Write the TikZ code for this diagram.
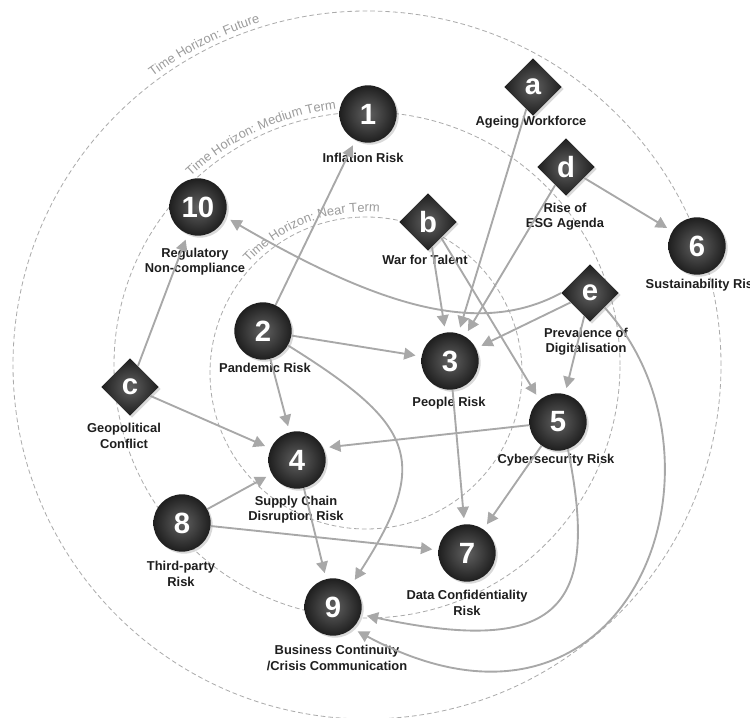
\documentclass[tikz,border=0pt]{standalone}
\usepackage{fontspec}
\setsansfont{Liberation Sans}
\usetikzlibrary{shapes.geometric,arrows.meta,shadows,decorations.text}
\definecolor{rkEdge}{HTML}{A8A8A8}
\definecolor{rkRing}{HTML}{ABABAB}
\definecolor{rkArcText}{HTML}{9C9C9C}
\definecolor{rkText}{HTML}{1E1E1E}
\newcommand{\rkArcFont}{\sffamily\fontsize{11}{13}\selectfont\color{rkArcText}}
\tikzset{
    rkNodeBase/.style={
        inner sep=0pt,
        shade,
        shading=radial,
        inner color=black!62,
        outer color=black!88,
        text=white,
        font=\sffamily\bfseries\fontsize{25}{28}\selectfont,
        drop shadow={opacity=0.3, shadow xshift=0.6mm, shadow yshift=-0.6mm}
    },
    % Risks and drivers
    risk/.style={rkNodeBase, circle, minimum size=17.2mm},
    driver/.style={rkNodeBase, diamond, aspect=1, minimum size=17.2mm},
    % Labels
    rkLabel/.style={
        font=\sffamily\bfseries\fontsize{11}{13}\selectfont,
        text=rkText,
        align=center,
        inner sep=1pt
    },
    % Rings
    rkRingBase/.style={draw=rkRing, line width=0.7pt, dash pattern=on 4pt off 2.5pt},
    rkArcLabel/.style={decorate, decoration={text along path, text align=center, text={|\rkArcFont|#1}}},
    % Arrows
    rkArrowBase/.style={-{Triangle[length=3.4mm, width=3.5mm]}, line width=1.6pt, draw=rkEdge, shorten >=1.8mm}
}

\begin{document}
\begin{tikzpicture}[
    x=0.3mm, y=0.3mm,
    ring/.style={rkRingBase},
    lbl/.style={rkLabel},
    arr/.style={rkArrowBase}
]
\useasboundingbox (0,0) rectangle (750,717);

% Time horizons
\coordinate (cOut) at (367,352);
\coordinate (cIn) at (366,344);
\draw[ring] (cOut) circle[radius=106.2mm];
\draw[ring] (cOut) circle[radius=75.9mm];
\draw[ring] (cIn) circle[radius=46.8mm];
\path[rkArcLabel={Time Horizon: Future}] (cOut) ++(140:359) arc[start angle=140, end angle=94, radius=107.7mm];
\path[rkArcLabel={Time Horizon: Medium Term}] (cOut) ++(140:258) arc[start angle=140, end angle=90, radius=77.4mm];
\path[rkArcLabel={Time Horizon: Near Term}] (cIn) ++(140:161) arc[start angle=140, end angle=82, radius=48.3mm];

% Risks
\node[risk] (n1) at (368,603) {1};
\node[risk] (n2) at (263,386) {2};
\node[risk] (n3) at (450,356) {3};
\node[risk] (n4) at (297,257) {4};
\node[risk] (n5) at (558,295) {5};
\node[risk] (n6) at (697,471) {6};
\node[risk] (n7) at (467,164) {7};
\node[risk] (n8) at (182,194) {8};
\node[risk] (n9) at (333,110) {9};
\node[risk] (n10) at (198,510) {10};

% Drivers
\node[driver] (na) at (533,630) {a};
\node[driver] (nb) at (428,495) {b};
\node[driver] (nc) at (130,330) {c};
\node[driver] (nd) at (566,550) {d};
\node[driver] (ne) at (590,424) {e};

% Labels
\node[lbl] (l1) at (363,559) {Inflation Risk};
\node[lbl] (l2) at (265,349) {Pandemic Risk};
\node[lbl] (l3) at (449,314) {People Risk};
\node[lbl] (l4) at (296,207) {Supply Chain\\Disruption Risk};
\node[lbl] (l5) at (556,257) {Cybersecurity Risk};
\node[lbl] (l6) at (703,432) {Sustainability Risk};
\node[lbl] (l7) at (467,114) {Data Confidentiality\\Risk};
\node[lbl] (l8) at (181,143) {Third-party\\Risk};
\node[lbl] (l9) at (337,59) {Business Continuity\\/Crisis Communication};
\node[lbl] (l10) at (195,455) {Regulatory\\Non-compliance};
\node[lbl] (la) at (531,595) {Ageing Workforce};
\node[lbl] (lb) at (425,457) {War for Talent};
\node[lbl] (lc) at (124,281) {Geopolitical\\Conflict};
\node[lbl] (ld) at (565,500) {Rise of\\ESG Agenda};
\node[lbl] (le) at (586,375) {Prevalence of\\Digitalisation};

% Connections
\draw[arr] (n2) -- (n1);
\draw[arr] (nc) -- (n10);
\draw[arr] (ne.west) .. controls (480,380) and (380,410) .. (n10.-20);
\draw[arr] (nb) -- (n3);
\draw[arr] (na) -- (n3);
\draw[arr] (nd) -- (n3);
\draw[arr] (ne) -- (n3);
\draw[arr] (nd) -- (n6);
\draw[arr] (nb.-50) -- (n5.130);
\draw[arr] (ne) -- (n5);
\draw[arr] (n2) -- (n3);
\draw[arr] (n2) -- (n4);
\draw[arr] (n2.-30) .. controls (414,293) and (432,257) .. (n9.50);
\draw[arr] (nc) -- (n4);
\draw[arr] (n5) -- (n4.25);
\draw[arr] (n8) -- (n4);
\draw[arr] (n8) -- (n7);
\draw[arr] (n4) -- (n9);
\draw[arr] (n3) -- (n7);
\draw[arr] (n5) -- (n7);
\draw[arr] (n5.-70) .. controls (600,110) and (560,60) .. (n9.-15);
\draw[arr] (ne.-45) .. controls (745,255) and (630,-60) .. (n9.-48);
\end{tikzpicture}
\end{document}
